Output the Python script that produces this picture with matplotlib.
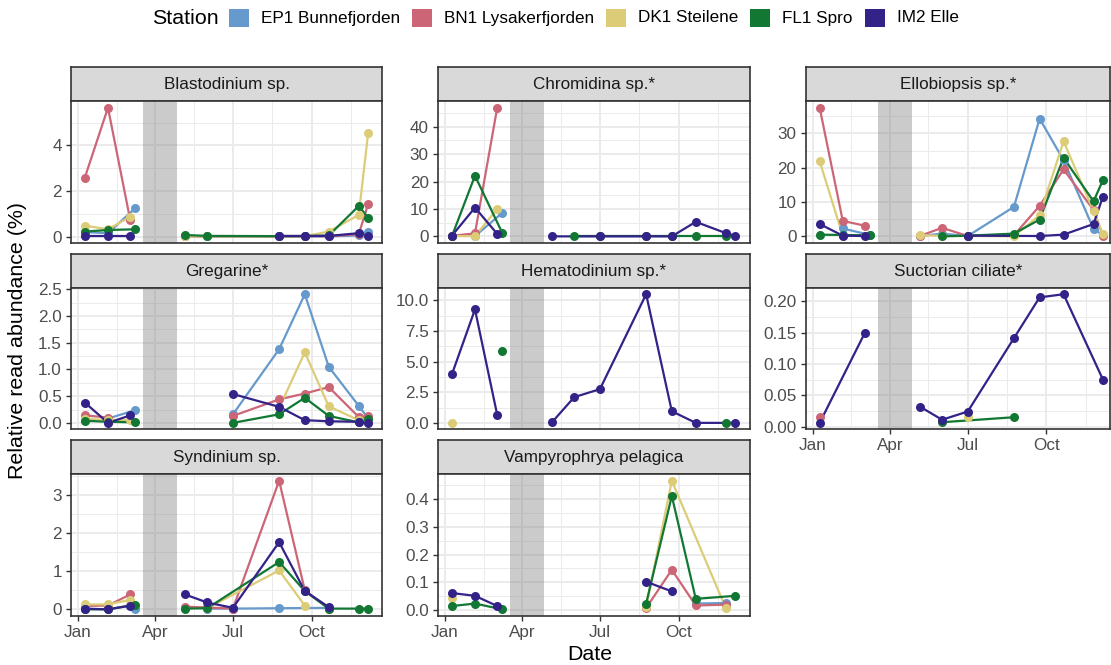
import numpy as np
import matplotlib
matplotlib.use("Agg")
import matplotlib.pyplot as plt
import matplotlib.dates as mdates
from matplotlib.patches import Rectangle
from matplotlib.ticker import AutoMinorLocator, FixedLocator

plt.rcParams['font.family'] = ['Liberation Sans', 'DejaVu Sans']

nan = np.nan

# sampling cruises (EP1/FL1 were visited on 9 March, the rest on 3 March)
sample_dates = ["2019-01-09", "2019-02-05", "2019-03-03", "2019-03-09",
                "2019-05-06", "2019-06-01", "2019-07-01", "2019-08-24",
                "2019-09-23", "2019-10-21", "2019-11-25", "2019-12-06"]
stations = ["EP1 Bunnefjorden", "BN1 Lysakerfjorden", "DK1 Steilene", "FL1 Spro", "IM2 Elle"]
station_colors = ["#6699CC", "#CC6677", "#DDCC77", "#117733", "#332288"]
gap_period = ("2019-03-18", "2019-04-27")

# relative read abundance (%) per station, one value per cruise
blastodinium = {
    "EP1 Bunnefjorden": [0.2, 0.15, nan, 1.25, 0.01, 0.01, nan, 0.01, 0.01, 0.01, 0.05, 0.22],
    "BN1 Lysakerfjorden": [2.59, 5.65, 0.73, nan, 0.02, 0.01, nan, 0.01, 0.01, 0.02, 0.1, 1.43],
    "DK1 Steilene": [0.48, 0.32, 0.87, nan, 0.01, 0.01, nan, 0.02, 0.02, 0.22, 0.95, 4.54],
    "FL1 Spro": [0.22, 0.29, nan, 0.32, 0.07, 0.03, nan, 0.02, 0.02, 0.05, 1.34, 0.83],
    "IM2 Elle": [0.04, 0.04, 0.04, nan, nan, nan, nan, 0.03, 0.03, 0.03, 0.15, 0.04],
}
chromidina = {
    "EP1 Bunnefjorden": [nan, 0.1, nan, 8.6, nan, nan, nan, nan, nan, nan, nan, nan],
    "BN1 Lysakerfjorden": [0.2, 1.1, 46.9, nan, nan, nan, nan, nan, nan, nan, nan, nan],
    "DK1 Steilene": [0.1, 0.05, 10.0, nan, nan, nan, nan, nan, nan, nan, nan, nan],
    "FL1 Spro": [0.0, 22.1, nan, 1.2, nan, 0.0, 0.0, 0.0, 0.0, 0.0, 0.0, nan],
    "IM2 Elle": [0.2, 10.5, 0.9, nan, 0.0, nan, 0.0, 0.0, 0.0, 5.3, 1.2, 0.2],
}
ellobiopsis = {
    "EP1 Bunnefjorden": [nan, 2.3, nan, 0.4, 0.1, 0.8, 0.1, 8.6, 34.3, 22.2, 2.2, 0.3],
    "BN1 Lysakerfjorden": [37.5, 4.5, 3.1, nan, 0.1, 2.5, 0.1, 0.3, 8.9, 19.5, 7.7, 0.2],
    "DK1 Steilene": [21.9, 0.2, 0.1, nan, 0.4, 0.1, 0.1, 0.0, 6.2, 27.7, 7.4, 0.6],
    "FL1 Spro": [0.5, 0.4, nan, 0.3, nan, 0.0, 0.2, 0.8, 4.9, 22.9, 10.2, 16.4],
    "IM2 Elle": [3.6, 0.2, 0.1, nan, nan, nan, 0.2, nan, 0.1, 0.5, 3.6, 11.6],
}
gregarine = {
    "EP1 Bunnefjorden": [nan, 0.08, nan, 0.24, nan, nan, 0.16, 1.38, 2.41, 1.05, 0.32, 0.08],
    "BN1 Lysakerfjorden": [0.14, 0.1, nan, nan, nan, nan, 0.13, 0.44, 0.55, 0.67, 0.11, 0.12],
    "DK1 Steilene": [0.08, 0.05, 0.05, nan, nan, nan, nan, 0.28, 1.32, 0.31, 0.05, 0.05],
    "FL1 Spro": [0.04, 0.02, nan, 0.01, nan, nan, 0.0, 0.16, 0.47, 0.13, 0.01, 0.08],
    "IM2 Elle": [0.38, 0.0, 0.14, nan, nan, nan, 0.54, 0.30, 0.05, 0.03, 0.02, 0.0],
}
hematodinium = {
    "EP1 Bunnefjorden": [nan] * 12,
    "BN1 Lysakerfjorden": [nan] * 12,
    "DK1 Steilene": [0.0, nan, nan, nan, nan, nan, nan, nan, nan, nan, nan, nan],
    "FL1 Spro": [nan, nan, nan, 5.83, nan, nan, nan, nan, nan, nan, 0.0, nan],
    "IM2 Elle": [3.95, 9.26, 0.65, nan, 0.05, 2.1, 2.75, 10.5, 0.95, 0.0, nan, 0.0],
}
suctorian = {
    "EP1 Bunnefjorden": [nan] * 12,
    "BN1 Lysakerfjorden": [0.015, nan, nan, nan, nan, nan, nan, nan, nan, nan, nan, nan],
    "DK1 Steilene": [nan, nan, nan, nan, nan, nan, 0.015, nan, nan, nan, nan, nan],
    "FL1 Spro": [nan, nan, nan, nan, nan, 0.007, nan, 0.015, nan, nan, nan, nan],
    "IM2 Elle": [0.006, nan, 0.15, nan, 0.032, 0.011, 0.024, 0.141, 0.206, 0.211, nan, 0.075],
}
syndinium = {
    "EP1 Bunnefjorden": [nan, nan, nan, 0.02, nan, 0.02, 0.02, 0.03, nan, 0.04, nan, nan],
    "BN1 Lysakerfjorden": [0.09, 0.1, 0.39, nan, 0.07, 0.05, 0.02, 3.37, 0.5, 0.02, nan, nan],
    "DK1 Steilene": [0.13, 0.13, 0.25, nan, nan, 0.03, nan, 1.02, 0.1, nan, nan, nan],
    "FL1 Spro": [0.0, 0.0, nan, 0.12, 0.02, 0.03, nan, 1.24, 0.48, 0.02, 0.02, 0.02],
    "IM2 Elle": [0.02, 0.0, 0.1, nan, 0.39, 0.18, 0.04, 1.76, 0.48, 0.06, nan, nan],
}
vampyrophrya = {
    "EP1 Bunnefjorden": [nan, nan, nan, nan, nan, nan, nan, nan, nan, 0.023, 0.025, nan],
    "BN1 Lysakerfjorden": [nan, nan, nan, nan, nan, nan, nan, 0.007, 0.145, 0.016, 0.019, nan],
    "DK1 Steilene": [0.044, nan, nan, nan, nan, nan, nan, 0.01, 0.467, nan, 0.007, nan],
    "FL1 Spro": [0.014, 0.023, nan, 0.002, nan, nan, nan, 0.023, 0.412, 0.04, nan, 0.051],
    "IM2 Elle": [0.061, 0.051, 0.014, nan, nan, nan, nan, 0.102, 0.067, nan, nan, nan],
}

panel_titles = ["Blastodinium sp.", "Chromidina sp.*", "Ellobiopsis sp.*",
                "Gregarine*", "Hematodinium sp.*", "Suctorian ciliate*",
                "Syndinium sp.", "Vampyrophrya pelagica"]
panel_data = [blastodinium, chromidina, ellobiopsis, gregarine,
              hematodinium, suctorian, syndinium, vampyrophrya]
panel_yticks = [[0, 2, 4], [0, 10, 20, 30, 40], [0, 10, 20, 30],
                [0, 0.5, 1.0, 1.5, 2.0, 2.5], [0, 2.5, 5.0, 7.5, 10.0],
                [0, 0.05, 0.10, 0.15, 0.20], [0, 1, 2, 3], [0, 0.1, 0.2, 0.3, 0.4]]
month_ticks = ["2019-01-01", "2019-04-01", "2019-07-01", "2019-10-01"]
month_labels = ["Jan", "Apr", "Jul", "Oct"]
month_minor = ["2019-02-15", "2019-05-16", "2019-08-16", "2019-11-16"]

# ---- layout in pixels ----
W, H = 1111, 665
col_left = [70.7, 437.7, 805.5]
col_right = [382.3, 750.0, 1110.0]
full_width = 311.6
row_top = [67.3, 253.8, 440.3]
strip_h = 34.0
panel_h = 141.5

dark = "#333333"
grid_col = "#EBEBEB"
tick_text = "#4D4D4D"
small = 12.3
big = 15.4

fig = plt.figure(figsize=(W / 100, H / 100), dpi=100)

xdates = mdates.datestr2num(sample_dates)
span = xdates[-1] - xdates[0]
xmin = xdates[0] - 0.05 * span
xmax_full = xdates[-1] + 0.05 * span
segments = [range(0, 4), range(4, 12)]


def fmt_ticks(ticks):
    dec = 0
    for t in ticks:
        s = ("%.3f" % t).rstrip("0").split(".")
        if len(s) > 1:
            dec = max(dec, len(s[1]))
    return [("%." + str(dec) + "f") % t for t in ticks]


n_cols = 3
for i, (title, data, yt) in enumerate(zip(panel_titles, panel_data, panel_yticks)):
    row, col = divmod(i, n_cols)
    x0, x1 = col_left[col], col_right[col]
    top = row_top[row]
    show_x = (i + n_cols) >= len(panel_titles)

    sax = fig.add_axes([x0 / W, 1 - (top + strip_h) / H, (x1 - x0) / W, strip_h / H])
    sax.set_facecolor("#D9D9D9")
    sax.set_xticks([])
    sax.set_yticks([])
    for sp in sax.spines.values():
        sp.set_color(dark)
        sp.set_linewidth(1.2)
    sax.text(0.5, 0.48, title, ha="center", va="center", fontsize=small, color="#1A1A1A",
             transform=sax.transAxes)

    ax = fig.add_axes([x0 / W, 1 - (top + strip_h + panel_h) / H, (x1 - x0) / W, panel_h / H])
    ax.set_axisbelow(True)

    # no-sampling window
    ax.axvspan(mdates.datestr2num(gap_period[0]), mdates.datestr2num(gap_period[1]),
               color="#7F7F7F", alpha=0.4, lw=0, zorder=1)

    all_vals = []
    for st, c in zip(stations, station_colors):
        y = np.array(data[st], dtype=float)
        all_vals.extend(y[~np.isnan(y)])
        for seg in segments:
            idx = [k for k in seg if not np.isnan(y[k])]
            if len(idx) > 1:
                ax.plot(xdates[idx], y[idx], color=c, lw=1.6, zorder=2, solid_capstyle="butt")
    for st, c in zip(stations, station_colors):
        y = np.array(data[st], dtype=float)
        ok = ~np.isnan(y)
        ax.plot(xdates[ok], y[ok], ls="none", marker="o", ms=6.5, mew=0, color=c, zorder=3)

    lo, hi = min(all_vals), max(all_vals)
    pad = 0.05 * (hi - lo)
    ax.set_ylim(lo - pad, hi + pad)
    xmax = xmin + (xmax_full - xmin) * (x1 - x0) / full_width
    ax.set_xlim(xmin, xmax)

    ax.yaxis.set_major_locator(FixedLocator(yt))
    ax.set_yticklabels(fmt_ticks(yt))
    ax.yaxis.set_minor_locator(AutoMinorLocator(2))
    ax.xaxis.set_major_locator(FixedLocator(mdates.datestr2num(month_ticks)))
    ax.xaxis.set_minor_locator(FixedLocator(mdates.datestr2num(month_minor)))
    if show_x:
        ax.set_xticklabels(month_labels)
    else:
        ax.set_xticklabels([])
    ax.tick_params(which="major", length=3.9, width=1.0, color=dark, labelsize=small,
                   labelcolor=tick_text, pad=2.5)
    ax.tick_params(which="minor", length=0)
    if not show_x:
        ax.tick_params(axis="x", which="major", length=0)
    ax.grid(which="major", color=grid_col, lw=1.4)
    ax.grid(which="minor", color=grid_col, lw=0.7)
    for sp in ax.spines.values():
        sp.set_color(dark)
        sp.set_linewidth(1.2)

fig.text(18 / W, 1 - 340.5 / H, "Relative read abundance (%)", rotation=90,
         ha="center", va="center", fontsize=big, color="black")
fig.text(590 / W, 1 - 655 / H, "Date", ha="center", va="center", fontsize=big, color="black")

# legend along the top
renderer = fig.canvas.get_renderer()
leg_y = 1 - 18 / H
key_w, key_h = 20, 18
title_txt = fig.text(0, leg_y, "Station", ha="left", va="center", fontsize=big)
labels = [fig.text(0, leg_y, s, ha="left", va="center", fontsize=small) for s in stations]
w_title = title_txt.get_window_extent(renderer).width
w_labels = [t.get_window_extent(renderer).width for t in labels]
gap_title, gap_key, gap_item = 10, 12, 12
total = w_title + gap_title + sum(key_w + gap_key + w for w in w_labels) + gap_item * (len(stations) - 1)
x = (W - total) / 2
title_txt.set_x(x / W)
x += w_title + gap_title
for t, w, c in zip(labels, w_labels, station_colors):
    fig.patches.append(Rectangle((x / W, leg_y - key_h / 2 / H), key_w / W, key_h / H,
                                 transform=fig.transFigure, facecolor=c, edgecolor="none"))
    x += key_w + gap_key
    t.set_x(x / W)
    x += w + gap_item

fig.savefig("out.png", dpi=100)
